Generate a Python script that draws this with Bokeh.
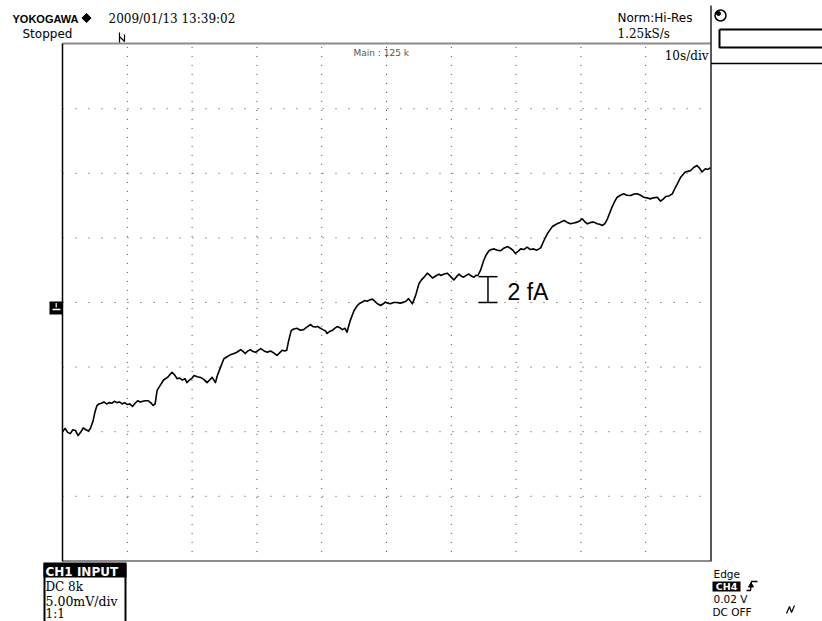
from bokeh.plotting import figure
from bokeh.models import Range1d, Label
from bokeh.embed import file_html
from bokeh.resources import INLINE
import math

# ---------------- data ----------------
# time in seconds (10 s/div), signal in mV (5 mV/div), centre = 0 mV
time_s = [
    0.0, 0.4, 0.8, 1.2, 1.6, 2.0, 2.4, 2.8, 3.2, 3.6, 4.0, 4.3,
    4.7, 5.0, 5.3, 5.6,
    6.0, 6.4, 6.8, 7.2, 7.6, 8.0, 8.4, 8.8, 9.2, 9.6, 10.0, 10.4, 10.8, 11.2, 11.6, 12.0, 12.4, 12.8, 13.2, 13.6, 14.0, 14.3,
    14.6, 15.1, 15.6, 16.2, 16.9,
    17.3, 17.7, 18.1, 18.5, 18.9, 19.2, 19.6, 20.0, 20.3, 20.8, 21.3, 21.8, 22.3, 22.7, 23.1, 23.6, 23.9,
    24.4, 24.9, 25.4, 25.9, 26.4,
    26.9, 27.5, 27.9, 28.2, 28.6, 29.0, 29.4, 29.8, 30.2, 30.6, 31.1, 31.6, 32.1, 32.6, 33.1, 33.5, 33.9, 34.3, 34.6,
    34.9, 35.3,
    35.7, 36.2, 36.7, 37.2, 37.7, 38.3, 38.6, 39.0, 39.4, 39.8, 40.2, 40.6, 40.8, 41.2, 41.6, 42.0, 42.4, 42.8, 43.2, 43.6, 43.9,
    44.4, 45.0, 45.5,
    45.9, 46.3, 46.6, 47.0, 47.4, 47.8, 48.2, 48.6, 49.1, 49.5, 49.8, 50.2, 50.6, 51.1, 51.6, 52.1, 52.7, 53.0, 53.4, 53.7, 54.0,
    54.5, 55.0, 55.4, 55.8, 56.3,
    56.7, 57.1, 57.6, 58.1, 58.4, 58.9, 59.4, 59.9, 60.4, 60.8, 61.2, 61.5, 61.9, 62.3, 62.7, 63.1, 63.5, 63.8, 64.1,
    64.5, 65.0, 65.4, 65.8,
    66.2, 66.6, 67.1, 67.6, 68.1, 68.7, 69.1, 69.5, 69.9, 70.3, 70.7, 71.2, 71.7, 72.2, 72.7, 73.2, 73.8,
    74.3, 74.8, 75.2, 75.6,
    76.0, 76.3, 76.8, 77.4, 77.9, 78.4, 78.9, 79.4, 79.8, 80.2, 80.6, 81.0, 81.5, 82.0, 82.5, 82.9, 83.3, 83.7,
    84.1, 84.8, 85.2, 85.6,
    86.1, 86.6, 87.1, 87.7, 88.2, 88.7, 89.2, 89.7, 90.2, 90.7, 91.2, 91.8, 92.3, 92.7, 93.1, 93.6, 94.1,
    94.6, 95.0, 95.4, 96.1,
    96.5, 96.9, 97.4, 97.9, 98.3, 98.7, 99.2, 99.6, 100.0,
]
signal_mv = [
    -10.0, -9.75, -10.05, -10.15, -9.85, -9.9, -10.3, -10.05, -9.7, -9.85, -9.95, -9.75,
    -9.2, -8.5, -8.0, -7.85,
    -7.8, -7.7, -7.85, -7.75, -7.8, -7.65, -7.75, -7.7, -7.85, -7.75, -7.9, -7.85, -8.05, -7.8, -7.6, -7.7, -7.65, -7.6, -7.6, -7.75, -7.97, -7.85,
    -6.8, -6.4, -6.0, -5.8, -5.4,
    -5.6, -5.9, -5.85, -6.0, -5.9, -6.2, -6.0, -5.85, -5.65, -5.75, -5.8, -5.95, -6.2, -6.0, -5.8, -6.2, -5.65,
    -5.0, -4.35, -4.2, -4.05, -3.96,
    -3.85, -3.65, -3.8, -3.95, -3.75, -3.65, -3.8, -3.85, -3.7, -3.57, -3.75, -3.85, -3.75, -3.9, -4.1, -3.9, -3.7, -3.75, -3.7,
    -2.95, -2.17,
    -2.05, -2.0, -2.15, -2.1, -1.9, -1.7, -1.85, -1.9, -1.85, -2.0, -2.1, -2.2, -2.4, -2.25, -2.17, -2.0, -1.86, -1.95, -2.1, -2.0, -2.3,
    -1.4, -0.62, -0.23,
    -0.05, 0.03, 0.15, 0.1, 0.2, 0.26, 0.1, -0.1, -0.23, -0.1, 0.03, -0.05, -0.1, 0.0, 0.0, -0.05, 0.03, 0.1, 0.3, 0.1, -0.1,
    0.55, 1.45, 1.75, 1.96, 2.27,
    2.1, 1.9, 2.05, 2.2, 2.09, 2.2, 2.27, 2.0, 1.75, 2.0, 2.2, 2.05, 1.96, 2.1, 2.2, 2.05, 1.96, 2.1, 2.09,
    2.48, 3.25, 3.7, 4.0,
    4.1, 4.15, 4.05, 4.0, 4.2, 4.33, 4.2, 4.05, 3.8, 3.95, 4.15, 4.1, 4.28, 4.1, 4.15, 4.05, 4.23,
    4.8, 5.3, 5.6, 5.88,
    6.0, 6.09, 6.2, 6.35, 6.2, 6.09, 6.15, 6.22, 6.3, 6.48, 6.25, 6.09, 6.2, 6.22, 6.1, 6.05, 5.96, 6.1,
    6.48, 7.38, 7.8, 8.15,
    8.3, 8.41, 8.3, 8.28, 8.4, 8.41, 8.3, 8.15, 8.1, 8.02, 8.1, 8.15, 7.84, 8.0, 8.2, 8.25, 8.41,
    8.92, 9.3, 9.7, 10.1,
    10.15, 10.2, 10.45, 10.6, 10.4, 10.1, 10.35, 10.3, 10.43,
]
grid_time_s = [10, 20, 30, 40, 50, 60, 70, 80, 90]
grid_level_mv = [-15, -10, -5, 0, 5, 10, 15]
time_span_s = [0, 100]
level_span_mv = [-20, 20]
scale_bar_time_s = 65.66
scale_bar_mv = [0.0, 2.0]

# ---------------- geometry ----------------
W, H = 822, 621


def X(px):  # reference pixel column -> seconds
    return (px - 62) / 6.48


def Y(py):  # reference pixel row -> mV
    return (302 - py) / 12.92


p = figure(width=W, height=H,
           x_range=Range1d(X(0), X(W)), y_range=Range1d(Y(H), Y(0)),
           output_backend="svg", toolbar_location=None,
           x_axis_location=None, y_axis_location=None, min_border=0)
p.min_border_left = p.min_border_right = p.min_border_top = p.min_border_bottom = 0
p.outline_line_color = None
p.background_fill_color = "white"
p.border_fill_color = "white"
p.grid.visible = False


def seg(pts, color="black", width=1.5, dash="solid"):
    p.line([X(a) for a, b in pts], [Y(b) for a, b in pts],
           line_color=color, line_width=width, line_dash=dash)


def lab(text, px, py, size, font="DejaVu Sans", color="black", style="normal",
        align="left"):
    # py = wanted baseline row; small correction for how the label box is placed
    p.add_layout(Label(x=X(px), y=Y(py - 0.36 * size), text=text, text_font=font,
                       text_font_size=f"{size}px", text_color=color,
                       text_font_style=style, text_align=align,
                       text_baseline="alphabetic"))


# ---------------- graticule ----------------
for g in grid_level_mv:
    p.line(time_span_s, [g, g], line_color="#444444", line_width=1, line_dash="1 12")
for g in grid_time_s:
    p.line([g, g], level_span_mv, line_color="#444444", line_width=1, line_dash="1 8")

# frame
seg([(62, 43), (710, 43)], color="#8c8c8c", width=2)
seg([(62, 560.5), (710, 560.5)], color="#8c8c8c", width=2)
seg([(62, 43), (62, 561)], color="black", width=1.5)
seg([(710.5, 5), (710.5, 561)], color="#222222", width=1.5)
seg([(710.5, 63), (830, 63)], color="black", width=1.5)
seg([(719, 29), (830, 29), (830, 47), (719, 47), (719, 29)], color="black", width=2)

# circle icon
p.scatter(x=[X(720)], y=[Y(15)], size=11, marker="circle", fill_color=None,
          line_color="black", line_width=1.5)
p.scatter(x=[X(718)], y=[Y(13)], size=4, marker="circle", fill_color="black",
          line_color="black")

# ---------------- trace ----------------
p.line(time_s, signal_mv, line_color="black", line_width=1.6, line_join="round")

# scale bar "2 fA"
hw = 1.47
p.line([scale_bar_time_s, scale_bar_time_s], scale_bar_mv, line_color="black", line_width=1.5)
for v in scale_bar_mv:
    p.line([scale_bar_time_s - hw, scale_bar_time_s + hw], [v, v], line_color="black", line_width=1.5)
lab("2 fA", 507, 299.5, 23, font="Liberation Sans")

# ground marker
p.quad(left=[X(49)], right=[X(62)], top=[Y(301)], bottom=[Y(314)],
       fill_color="black", line_color=None)
seg([(55.7, 302.5), (55.7, 307)], color="white", width=1.2)
seg([(52, 309), (60, 309)], color="white", width=1.5)

# ---------------- header texts ----------------
lab("YOKOGAWA", 12, 22, 11, font="Liberation Sans", style="bold")
p.scatter(x=[X(86)], y=[Y(17.5)], size=6.5, marker="square", angle=math.pi / 4,
          fill_color="black", line_color="black")
lab("2009/01/13 13:39:02", 108, 23, 12, font="DejaVu Serif")
lab("Stopped", 22, 38, 12)
seg([(119, 32), (119, 42)], width=1.2)
seg([(119, 36), (124, 41), (124, 34)], width=1.2)
lab("Norm:Hi-Res", 617, 22, 12)
lab("1.25kS/s", 617, 38, 12, font="DejaVu Serif")
lab("Main : 125 k", 353, 56, 9, color="#555555")
lab("10s/div", 708, 60, 12, font="DejaVu Serif", align="right")

# ---------------- bottom-left channel box ----------------
p.quad(left=[X(43)], right=[X(126)], top=[Y(562)], bottom=[Y(577)],
       fill_color="black", line_color=None)
seg([(44, 563), (44, 630)], width=2)
seg([(125, 563), (125, 630)], width=2)
lab("CH1 INPUT", 45, 575.5, 12, style="bold", color="white")
lab("DC 8k", 45, 591, 12, font="DejaVu Serif")
lab("5.00mV/div", 45, 605, 12.5, font="DejaVu Serif")
lab("1:1", 45, 618, 12, font="DejaVu Serif")

# ---------------- bottom-right trigger info ----------------
lab("Edge", 713, 577, 10.5)
p.quad(left=[X(712)], right=[X(740)], top=[Y(581)], bottom=[Y(591)],
       fill_color="black", line_color=None)
lab("CH4", 726, 589.5, 9.5, style="bold", color="white", align="center")
seg([(746, 590), (750, 590), (751, 581), (757, 581)], width=1.3)
p.scatter(x=[X(750.5)], y=[Y(585)], size=5, marker="triangle", fill_color="black", line_color="black")
lab("0.02 V", 713, 602, 10.5)
lab("DC OFF", 712, 615, 10.5)
seg([(786, 613), (789, 606), (791, 612), (794, 605)], width=1.2)

open("out.html", "w").write(file_html(p, INLINE))
